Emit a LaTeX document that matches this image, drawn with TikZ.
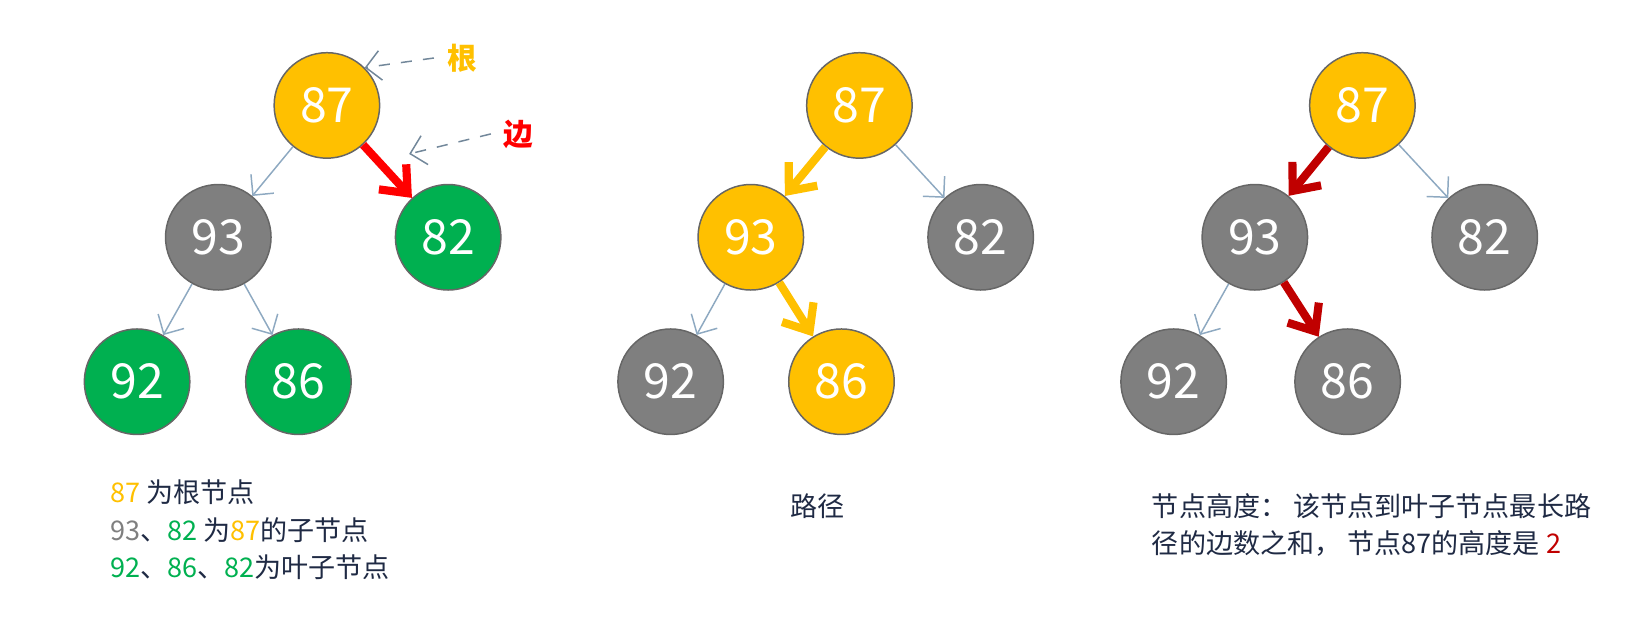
\documentclass[tikz,border=0pt]{standalone}
\usepackage{fontspec}
\setmainfont{Noto Sans CJK SC}
\usetikzlibrary{arrows.meta}
\definecolor{nodeyellow}{HTML}{FFC000}
\definecolor{nodegreen}{HTML}{00B050}
\definecolor{nodegray}{HTML}{7F7F7F}
\definecolor{edgeblue}{HTML}{8EA9C1}
\definecolor{textdark}{HTML}{1F2A44}
\definecolor{darkred}{HTML}{C00000}
\tikzset{
  tnode/.style={circle, draw=black!60, thin, minimum size=1.0cm, inner sep=0pt,
    text=white, font=\fontsize{13}{13}\selectfont},
  thinedge/.style={draw=edgeblue, thin, -{Straight Barb[length=4pt]}},
  boldedge/.style={line width=2.2pt, -{Straight Barb[length=6pt, width=10pt, line width=2.2pt]}},
  noteline/.style={draw=edgeblue!80!black, dashed, thin, -{Straight Barb[length=4pt]}},
  caption/.style={anchor=west, text=textdark, font=\fontsize{7.3}{7.3}\selectfont}
}
\begin{document}
\begin{tikzpicture}[x=0.01cm, y=-0.01cm]
\useasboundingbox (0,0) rectangle (1560,600);
% Tree 1
\node[tnode, fill=nodeyellow] (a87) at (310,100) {87};
\node[tnode, fill=nodegray]   (a93) at (207,225) {93};
\node[tnode, fill=nodegreen]  (a82) at (425,225) {82};
\node[tnode, fill=nodegreen]  (a92) at (130,362) {92};
\node[tnode, fill=nodegreen]  (a86) at (283,362) {86};
\draw[thinedge] (a87) -- (a93);
\draw[boldedge, red] (a87) -- (a82);
\draw[thinedge] (a93) -- (a92);
\draw[thinedge] (a93) -- (a86);
\node[text=nodeyellow, font=\fontsize{8}{8}\selectfont\bfseries] (lroot) at (438,55) {根};
\node[text=red, font=\fontsize{8}{8}\selectfont\bfseries] (ledge) at (492,127) {边};
\draw[noteline] (lroot.west) -- (a87.45);
\draw[noteline] (ledge.west) -- (388,146);
\node[caption] (c1) at (92,467) {\textcolor{nodeyellow}{87} 为根节点};
\node[caption] (c2) at (92,503) {\textcolor{nodegray}{93}、\textcolor{nodegreen}{82} 为\textcolor{nodeyellow}{87}的子节点};
\node[caption] (c3) at (92,538) {\textcolor{nodegreen}{92}、\textcolor{nodegreen}{86}、\textcolor{nodegreen}{82}为叶子节点};
% Tree 2
\node[tnode, fill=nodeyellow] (b87) at (815,100) {87};
\node[tnode, fill=nodeyellow] (b93) at (712,225) {93};
\node[tnode, fill=nodegray]   (b82) at (930,225) {82};
\node[tnode, fill=nodegray]   (b92) at (636,362) {92};
\node[tnode, fill=nodeyellow] (b86) at (798,362) {86};
\draw[boldedge, nodeyellow] (b87) -- (b93);
\draw[thinedge] (b87) -- (b82);
\draw[thinedge] (b93) -- (b92);
\draw[boldedge, nodeyellow] (b93) -- (b86);
\node[caption, anchor=center] (c4) at (775,480) {路径};
% Tree 3
\node[tnode, fill=nodeyellow] (d87) at (1292,100) {87};
\node[tnode, fill=nodegray]   (d93) at (1190,225) {93};
\node[tnode, fill=nodegray]   (d82) at (1408,225) {82};
\node[tnode, fill=nodegray]   (d92) at (1113,362) {92};
\node[tnode, fill=nodegray]   (d86) at (1278,362) {86};
\draw[boldedge, darkred] (d87) -- (d93);
\draw[thinedge] (d87) -- (d82);
\draw[thinedge] (d93) -- (d92);
\draw[boldedge, darkred] (d93) -- (d86);
\node[caption] (c5) at (1080,480) {节点高度：\ 该节点到叶子节点最长路};
\node[caption] (c6) at (1080,515) {径的边数之和，\ 节点87的高度是 \textcolor{darkred}{2}};
\end{tikzpicture}
\end{document}
